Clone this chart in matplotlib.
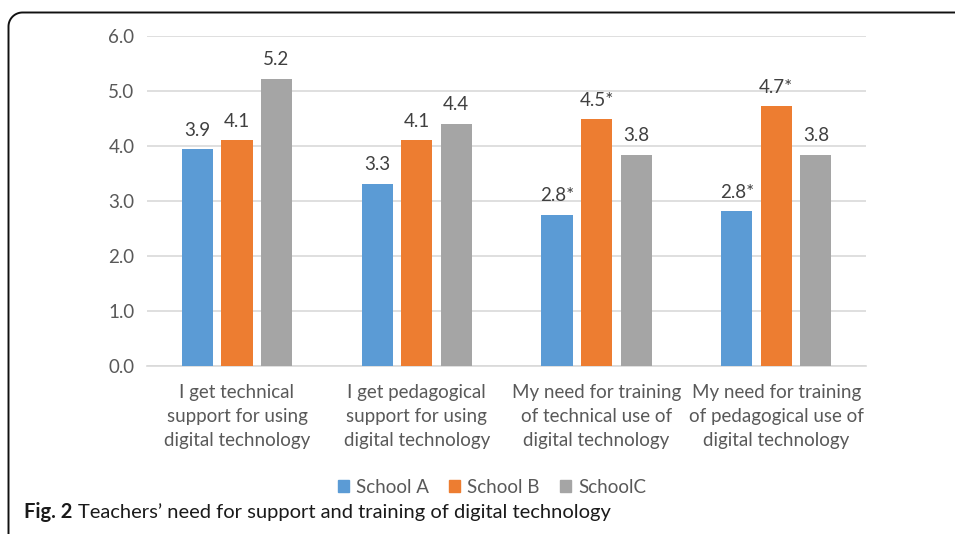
import numpy as np
import matplotlib
matplotlib.use("Agg")
import matplotlib.pyplot as plt
from matplotlib.patches import Patch

# datos
categorias = [
    "I get technical\nsupport for using\ndigital technology",
    "I get pedagogical\nsupport for using\ndigital technology",
    "My need for training\nof technical use of\ndigital technology",
    "My need for training\nof pedagogical use of\ndigital technology",
]
escuelas = ["School A", "School B", "SchoolC"]
school_a = [3.94, 3.31, 2.75, 2.81]
school_b = [4.10, 4.10, 4.48, 4.72]
school_c = [5.22, 4.40, 3.84, 3.84]
etiq_a = ["3.9", "3.3", "2.8*", "2.8*"]
etiq_b = ["4.1", "4.1", "4.5*", "4.7*"]
etiq_c = ["5.2", "4.4", "3.8", "3.8"]
yticks = [0.0, 1.0, 2.0, 3.0, 4.0, 5.0, 6.0]

colores = ["#5B9BD5", "#ED7D31", "#A5A5A5"]
fuente = "Lato"
gris_txt = "#595959"
tam = 13.5

plt.rcParams["font.family"] = [fuente, "DejaVu Sans"]

fig = plt.figure(figsize=(9.55, 5.34), dpi=100)
ax = fig.add_axes([0.154, 0.315, 0.753, 0.618])

x = np.arange(len(categorias))
ancho = 0.173
paso = 0.22
series = [school_a, school_b, school_c]
etiquetas = [etiq_a, etiq_b, etiq_c]
for i, (vals, etqs) in enumerate(zip(series, etiquetas)):
    barras = ax.bar(x + (i - 1) * paso, vals, width=ancho, color=colores[i],
                    zorder=3, label=escuelas[i])
    for b, t in zip(barras, etqs):
        ax.annotate(t, (b.get_x() + b.get_width() / 2, b.get_height()),
                    xytext=(0, 7.5), textcoords="offset points",
                    ha="center", va="bottom", fontsize=tam, color="#404040")

ax.set_xlim(-0.5, 3.5)
ax.set_ylim(0, 6)
ax.set_yticks(yticks)
ax.set_yticklabels(["%.1f" % v for v in yticks])
ax.set_xticks(x)
ax.set_xticklabels(categorias, linespacing=1.5)
ax.tick_params(axis="both", length=0, labelsize=tam, labelcolor=gris_txt)
ax.tick_params(axis="y", pad=9)
ax.tick_params(axis="x", pad=13)
ax.yaxis.grid(True, color="#D9D9D9", lw=1.2, zorder=0)
for lado in ["top", "right", "left"]:
    ax.spines[lado].set_visible(False)
ax.spines["bottom"].set_color("#D9D9D9")
ax.spines["bottom"].set_linewidth(1.2)

manijas = [Patch(color=c) for c in colores]
fig.legend(manijas, escuelas, loc="center", bbox_to_anchor=(0.515, 0.088),
           ncol=3, frameon=False, fontsize=tam, handlelength=0.6,
           handleheight=0.6, handletextpad=0.35, columnspacing=1.1,
           labelcolor=gris_txt)

# pie de figura
fig_t = fig.text(0.025, 0.03, "Fig. 2", fontsize=14.5, fontweight="bold",
                 color="#1a1a1a", ha="left", va="baseline")
rend = fig.canvas.get_renderer()
caja = fig_t.get_window_extent(rend)
fig.text(caja.x1 / fig.bbox.width + 0.006, 0.03,
         "Teachers\u2019 need for support and training of digital technology",
         fontsize=14.5, color="#1a1a1a", ha="left", va="baseline")

# borde con esquina redondeada arriba a la izquierda
W, H = 955.0, 534.0
r = 14.0
x0, y0 = 8.5, 12.5
ang = np.linspace(np.pi, np.pi / 2, 20)
bx = np.concatenate([[x0], x0 + r + r * np.cos(ang), [W + 5]])
by = np.concatenate([[H + 5], y0 + r - r * np.sin(ang), [y0]])
fig.add_artist(plt.Line2D(bx / W, 1 - by / H, color="#111111", lw=1.4,
                          transform=fig.transFigure))

fig.savefig("out.png", dpi=100)
